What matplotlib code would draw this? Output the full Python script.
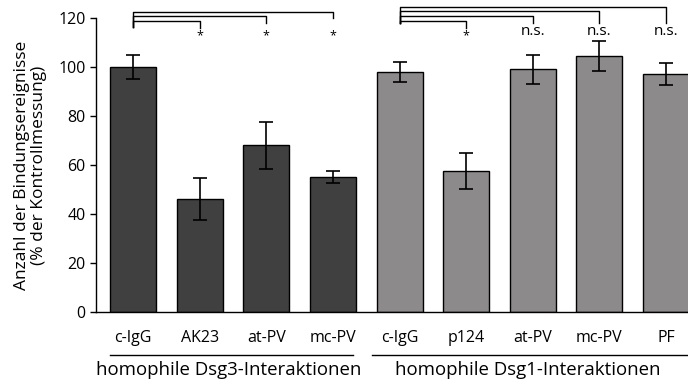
import matplotlib
matplotlib.use("Agg")
import matplotlib.pyplot as plt
import matplotlib.transforms as mtransforms

plt.rcParams['font.family'] = ['Open Sans', 'DejaVu Sans']

labels = ['c-IgG', 'AK23', 'at-PV', 'mc-PV', 'c-IgG', 'p124', 'at-PV', 'mc-PV', 'PF']
values = [100, 46, 68, 55, 98, 57.5, 99, 104.5, 97]
errors = [5, 8.5, 9.5, 2.5, 4, 7.5, 6, 6, 4.5]
colors = ['#404040'] * 4 + ['#8c8a8a'] * 5
groups = ['homophile Dsg3-Interaktionen', 'homophile Dsg1-Interaktionen']
sig_dsg3 = ['*', '*', '*']
sig_dsg1 = ['*', 'n.s.', 'n.s.', 'n.s.']

fig = plt.figure(figsize=(6.88, 3.83), dpi=100)
ax = fig.add_axes([0.1395, 0.1854, 0.8605, 0.7676])

x = list(range(len(values)))
ax.bar(x, values, width=0.69, color=colors, edgecolor='black', linewidth=1.0)
ax.errorbar(x, values, yerr=errors, fmt='none', ecolor='black', elinewidth=1.2,
            capsize=5, capthick=1.2)

ax.set_xlim(-0.556, 8.33)
ax.set_ylim(0, 120)
ax.set_yticks(range(0, 121, 20))
ax.set_xticks(x)
ax.set_xticklabels(labels, fontsize=11.5)
ax.tick_params(axis='x', length=0, pad=13)
ax.tick_params(axis='y', labelsize=11.5, length=4, width=1)
for s in ['top', 'right']:
    ax.spines[s].set_visible(False)
ax.spines['left'].set_linewidth(1.0)
ax.spines['bottom'].set_linewidth(1.0)
ax.set_ylabel('Anzahl der Bindungsereignisse\n(% der Kontrollmessung)', fontsize=12.5,
              labelpad=8, linespacing=1.1)

# significance brackets
def brackets(start, targets, tops, marks, drop):
    for t, top, m in zip(targets, tops, marks):
        end = top - 2.8 if m == '*' else drop
        ax.plot([start, start, t, t], [drop, top, top, end],
                color='black', lw=1.0, clip_on=False)
        if m == '*':
            ax.text(t, 112.6, m, ha='center', va='center', fontsize=9, clip_on=False)
        else:
            ax.text(t, 114.3, m, ha='center', va='center', fontsize=11, clip_on=False)

brackets(0, [1, 2, 3], [118.8, 120.8, 122.6], sig_dsg3, 116.2)
brackets(4, [5, 6, 7, 8], [118.8, 120.8, 122.8, 124.6], sig_dsg1, 118)

# group labels
trans = mtransforms.blended_transform_factory(ax.transData, fig.transFigure)
spans = [(-0.345, 3.30), (3.59, 8.33)]
centers = [1.44, 5.93]
for (x0, x1), c, g in zip(spans, centers, groups):
    ax.plot([x0, x1], [0.073, 0.073], color='black', lw=1.0, transform=trans, clip_on=False)
    ax.text(c, 0.033, g, ha='center', va='center', fontsize=13.4, transform=trans)

fig.savefig('out.png', dpi=100)
